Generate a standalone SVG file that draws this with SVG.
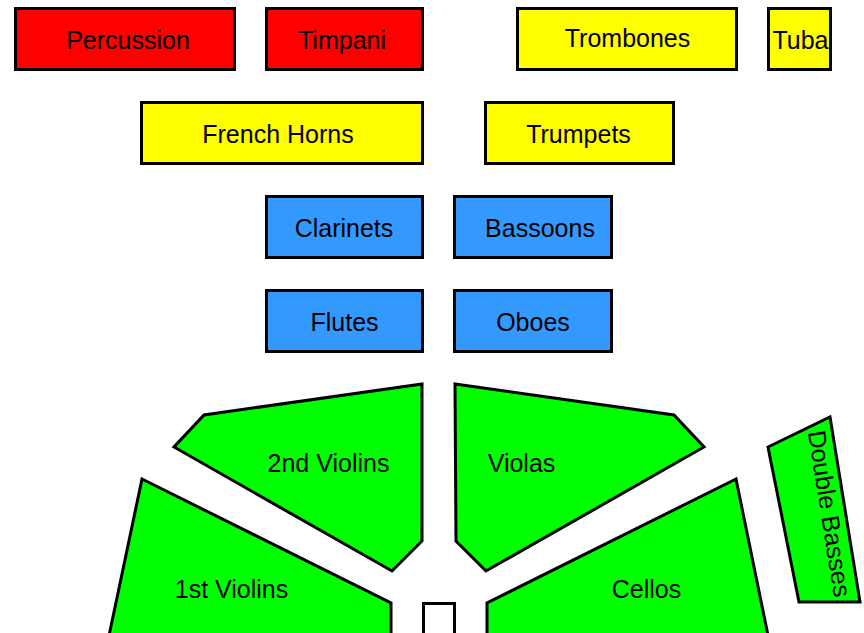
<svg xmlns="http://www.w3.org/2000/svg" width="864" height="633" viewBox="0 0 864 633">
<style>
.b{stroke:#000;stroke-width:3;stroke-linejoin:miter}
.red{fill:#ff0000}
.yel{fill:#ffff00}
.blu{fill:#3399ff}
.grn{fill:#00ff00}
.wht{fill:#ffffff}
text{font-family:"Liberation Sans",Arial,sans-serif;font-size:25px;fill:#000;text-anchor:middle}
</style>
<rect width="864" height="633" fill="#fff"/>
<g id="percussion"><rect class="b red" x="15.5" y="8.5" width="219" height="61"/><text x="128" y="49">Percussion</text></g>
<g id="timpani"><rect class="b red" x="266.5" y="8.5" width="156" height="61"/><text x="342" y="49">Timpani</text></g>
<g id="trombones"><rect class="b yel" x="517.5" y="8.5" width="219" height="61"/><text x="627.5" y="47">Trombones</text></g>
<g id="tuba"><rect class="b yel" x="768.5" y="8.5" width="62" height="61"/><text x="800.5" y="49">Tuba</text></g>
<g id="french-horns"><rect class="b yel" x="141.5" y="102.5" width="281" height="61"/><text x="278" y="143">French Horns</text></g>
<g id="trumpets"><rect class="b yel" x="485.5" y="102.5" width="188" height="61"/><text x="578.5" y="143">Trumpets</text></g>
<g id="clarinets"><rect class="b blu" x="266.5" y="196.5" width="156" height="61"/><text x="344" y="237">Clarinets</text></g>
<g id="bassoons"><rect class="b blu" x="454.5" y="196.5" width="157" height="61"/><text x="540" y="237">Bassoons</text></g>
<g id="flutes"><rect class="b blu" x="266.5" y="290.5" width="156" height="61"/><text x="344.5" y="331">Flutes</text></g>
<g id="oboes"><rect class="b blu" x="454.5" y="290.5" width="157" height="61"/><text x="533" y="331">Oboes</text></g>
<g id="second-violins"><polygon class="b grn" points="422,384 204,415 174,447 392,571 422,541"/><text x="328.5" y="472">2nd Violins</text></g>
<g id="violas"><polygon class="b grn" points="455,384 674,415 704,447 486,571 456,541"/><text x="521.5" y="472">Violas</text></g>
<g id="first-violins"><polygon class="b grn" points="142,479 391,603 391,650 106,650"/><text x="231.5" y="598">1st Violins</text></g>
<g id="cellos"><polygon class="b grn" points="736,479 487,603 487,650 771,650"/><text x="646.5" y="598">Cellos</text></g>
<g id="double-basses"><polygon class="b grn" points="768,447 830,417 860,602 799,602"/><text transform="translate(821,515) rotate(81)" x="0" y="0">Double Basses</text></g>
<g id="conductor"><rect class="b wht" x="423.5" y="603.5" width="31" height="40"/></g>
</svg>
